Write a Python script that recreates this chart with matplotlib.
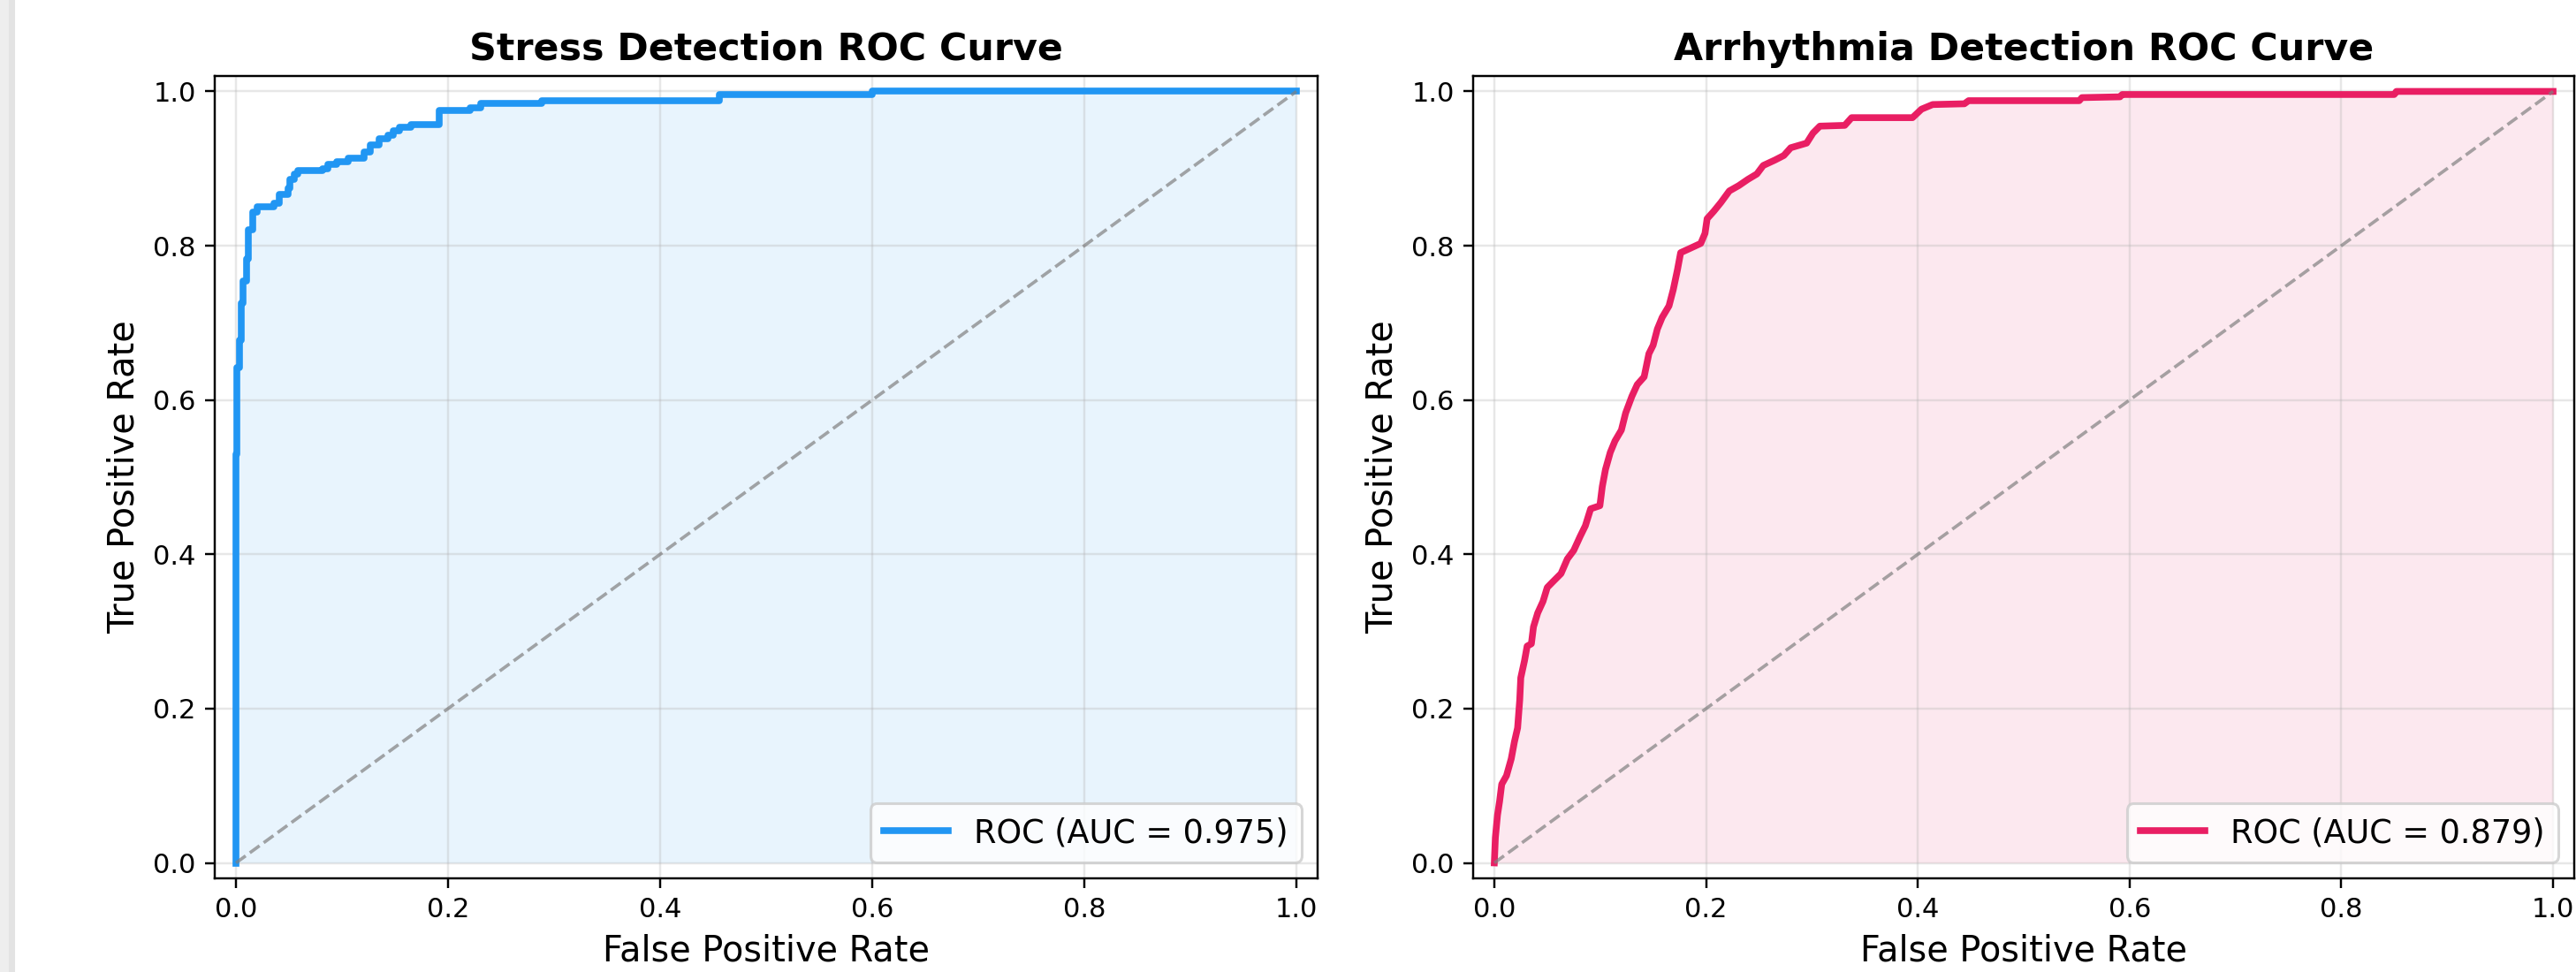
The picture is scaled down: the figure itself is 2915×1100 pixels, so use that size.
import matplotlib
matplotlib.use("Agg")
import matplotlib.pyplot as plt
from matplotlib.patches import Rectangle

# stress ROC (fpr, tpr at top of each step)
stress_fpr = [0.000, 0.000, 0.001, 0.003, 0.005, 0.007, 0.010, 0.012, 0.016, 0.016,
              0.020, 0.036, 0.041, 0.049, 0.051, 0.055, 0.058, 0.082, 0.087, 0.095,
              0.106, 0.121, 0.127, 0.135, 0.143, 0.148, 0.154, 0.165, 0.192, 0.221,
              0.231, 0.288, 0.456, 0.600, 1.000]
stress_tpr = [0.000, 0.530, 0.642, 0.678, 0.726, 0.754, 0.783, 0.821, 0.827, 0.844,
              0.850, 0.855, 0.867, 0.874, 0.886, 0.893, 0.897, 0.900, 0.905, 0.909,
              0.914, 0.922, 0.931, 0.939, 0.943, 0.949, 0.954, 0.957, 0.975, 0.979,
              0.984, 0.988, 0.996, 1.000, 1.000]
stress_auc = 0.975

# arrhythmia ROC
arr_fpr = [0.000, 0.001, 0.003, 0.005, 0.007, 0.0115, 0.016, 0.019, 0.022, 0.024,
           0.025, 0.0285, 0.031, 0.035, 0.037, 0.041, 0.046, 0.050, 0.055, 0.063,
           0.069, 0.075, 0.081, 0.086, 0.091, 0.0997, 0.102, 0.105, 0.1095, 0.114,
           0.120, 0.124, 0.130, 0.135, 0.1415, 0.146, 0.150, 0.154, 0.1585, 0.165,
           0.169, 0.173, 0.176, 0.184, 0.195, 0.199, 0.201, 0.2075, 0.214, 0.222,
           0.231, 0.2395, 0.248, 0.254, 0.265, 0.2735, 0.280, 0.295, 0.301, 0.3075,
           0.331, 0.3375, 0.395, 0.4035, 0.414, 0.444, 0.448, 0.5525, 0.555, 0.591,
           0.593, 0.850, 0.852, 1.000]
arr_tpr = [0.000, 0.033, 0.062, 0.080, 0.102, 0.113, 0.135, 0.157, 0.175, 0.211,
           0.240, 0.262, 0.281, 0.284, 0.306, 0.324, 0.339, 0.357, 0.364, 0.375,
           0.394, 0.405, 0.423, 0.437, 0.459, 0.463, 0.488, 0.510, 0.532, 0.547,
           0.561, 0.583, 0.605, 0.620, 0.630, 0.660, 0.671, 0.692, 0.707, 0.722,
           0.743, 0.769, 0.791, 0.796, 0.803, 0.816, 0.835, 0.845, 0.856, 0.871,
           0.878, 0.886, 0.893, 0.904, 0.911, 0.917, 0.927, 0.933, 0.946, 0.955,
           0.956, 0.966, 0.966, 0.977, 0.983, 0.984, 0.988, 0.988, 0.992, 0.993,
           0.996, 0.996, 1.000, 1.000]
arr_auc = 0.879

W, H, DPI = 2915, 1100, 220
fig = plt.figure(figsize=(W / DPI, H / DPI), dpi=DPI)

# grey strip on the left edge of the screenshot
fig.patches.append(Rectangle((0, 0), 14 / W, 1, transform=fig.transFigure,
                             color='#eeeeee', zorder=0))
fig.patches.append(Rectangle((11 / W, 0), 4 / W, 1, transform=fig.transFigure,
                             color='#e3e3e3', zorder=0))

ax1 = fig.add_axes([243 / W, 1 - 994 / H, 1248 / W, 908 / H])
ax2 = fig.add_axes([1667 / W, 1 - 994 / H, 1246 / W, 908 / H])

panels = [
    (ax1, stress_fpr, stress_tpr, stress_auc, '#2196F3', 'Stress Detection ROC Curve', 'steps-post'),
    (ax2, arr_fpr, arr_tpr, arr_auc, '#E91E63', 'Arrhythmia Detection ROC Curve', 'default'),
]

for ax, fpr, tpr, auc, color, title, ds in panels:
    ax.plot(fpr, tpr, color=color, lw=2.5, drawstyle=ds, label=f'ROC (AUC = {auc:.3f})')
    step = 'post' if ds == 'steps-post' else None
    ax.fill_between(fpr, tpr, color=color, alpha=0.1, step=step, lw=0)
    ax.plot([0, 1], [0, 1], linestyle='--', color='gray', alpha=0.7, lw=1.2)
    ax.set_xlim(-0.02, 1.02)
    ax.set_ylim(-0.02, 1.02)
    ax.set_title(title, fontsize=14, fontweight='bold')
    ax.set_xlabel('False Positive Rate', fontsize=13)
    ax.set_ylabel('True Positive Rate', fontsize=13)
    ax.legend(loc='lower right', fontsize=12)
    ax.grid(True, alpha=0.3)

fig.savefig('out.png', dpi=DPI)
